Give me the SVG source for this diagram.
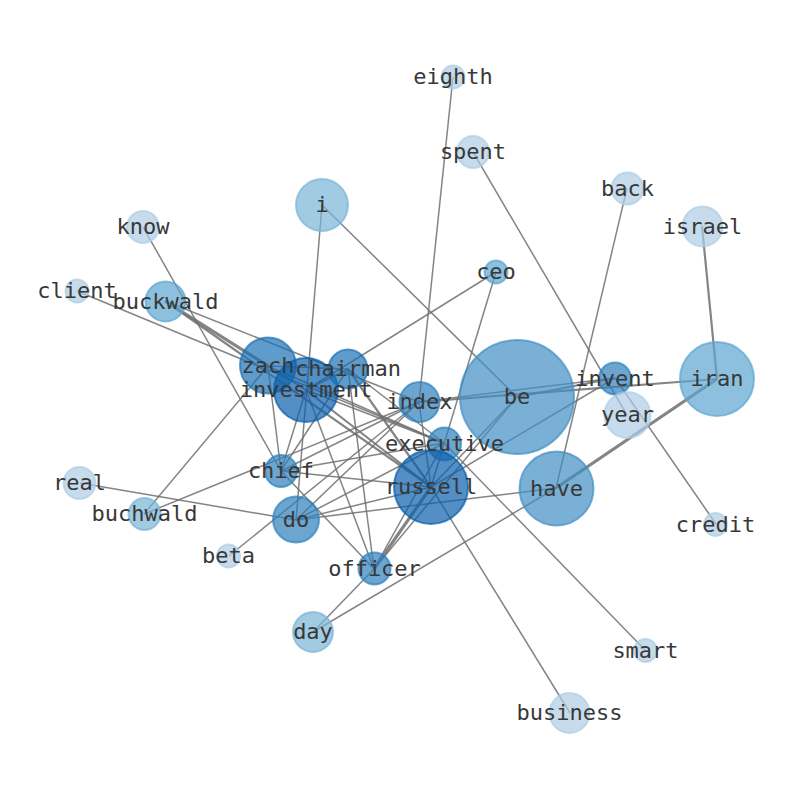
<svg xmlns="http://www.w3.org/2000/svg" width="794" height="790" viewBox="0 0 794 790">
<style>
.e{stroke:#6e6e6e;stroke-width:1.5;stroke-opacity:0.85;fill:none}
.w2{stroke-width:2.2}
.w3{stroke-width:3.2}
circle{stroke-width:2;fill-opacity:0.7;stroke-opacity:0.7}
.L1{fill:#aecde4;stroke:#aecde4}
.L2{fill:#78b5d7;stroke:#78b5d7}
.L3{fill:#5ba5d0;stroke:#5ba5d0}
.L4{fill:#418ec3;stroke:#418ec3}
.L5{fill:#2d80bc;stroke:#2d80bc}
.L6{fill:#1b70b5;stroke:#1b70b5}
.L7{fill:#0a5eab;stroke:#0a5eab}
text{font-family:"DejaVu Sans Mono","Liberation Mono",monospace;font-size:22px;fill:#383838;text-anchor:middle}
</style>
<rect width="794" height="790" fill="#ffffff"/>
<g id="edges">
<line class="e" x1="453" y1="77" x2="419" y2="402"/>
<line class="e" x1="473" y1="152" x2="627" y2="415"/>
<line class="e" x1="627" y1="188" x2="556" y2="488"/>
<line class="e w2" x1="702" y1="226" x2="717" y2="379"/>
<line class="e w3" x1="717" y1="379" x2="556" y2="488"/>
<line class="e w2" x1="717" y1="379" x2="419" y2="402"/>
<line class="e" x1="615" y1="378" x2="419" y2="402"/>
<line class="e w2" x1="615" y1="378" x2="517" y2="397"/>
<line class="e" x1="615" y1="378" x2="431" y2="487"/>
<line class="e" x1="615" y1="378" x2="716" y2="524"/>
<line class="e" x1="322" y1="205" x2="517" y2="397"/>
<line class="e" x1="322" y1="205" x2="296" y2="520"/>
<line class="e" x1="496" y1="272" x2="306" y2="390"/>
<line class="e" x1="496" y1="272" x2="431" y2="487"/>
<line class="e" x1="143" y1="227" x2="281" y2="471"/>
<line class="e" x1="77" y1="291" x2="444" y2="443"/>
<line class="e w3" x1="165" y1="301" x2="268" y2="366"/>
<line class="e w2" x1="165" y1="301" x2="431" y2="487"/>
<line class="e" x1="165" y1="301" x2="419" y2="402"/>
<line class="e" x1="144" y1="514" x2="268" y2="366"/>
<line class="e" x1="144" y1="514" x2="419" y2="402"/>
<line class="e" x1="80" y1="483" x2="296" y2="520"/>
<line class="e" x1="229" y1="556" x2="419" y2="402"/>
<line class="e" x1="296" y1="520" x2="556" y2="488"/>
<line class="e" x1="313" y1="632" x2="374" y2="569"/>
<line class="e" x1="313" y1="632" x2="556" y2="488"/>
<line class="e" x1="570" y1="713" x2="431" y2="487"/>
<line class="e" x1="646" y1="651" x2="444" y2="443"/>
<line class="e" x1="268" y1="366" x2="306" y2="390"/>
<line class="e" x1="268" y1="366" x2="348" y2="369"/>
<line class="e" x1="268" y1="366" x2="444" y2="443"/>
<line class="e" x1="268" y1="366" x2="281" y2="471"/>
<line class="e" x1="306" y1="390" x2="348" y2="369"/>
<line class="e w2" x1="306" y1="390" x2="431" y2="487"/>
<line class="e" x1="306" y1="390" x2="281" y2="471"/>
<line class="e" x1="306" y1="390" x2="374" y2="569"/>
<line class="e" x1="306" y1="390" x2="444" y2="443"/>
<line class="e w2" x1="348" y1="369" x2="431" y2="487"/>
<line class="e" x1="348" y1="369" x2="444" y2="443"/>
<line class="e" x1="348" y1="369" x2="374" y2="569"/>
<line class="e" x1="348" y1="369" x2="281" y2="471"/>
<line class="e" x1="281" y1="471" x2="419" y2="402"/>
<line class="e" x1="281" y1="471" x2="444" y2="443"/>
<line class="e" x1="281" y1="471" x2="431" y2="487"/>
<line class="e" x1="281" y1="471" x2="374" y2="569"/>
<line class="e" x1="296" y1="520" x2="431" y2="487"/>
<line class="e" x1="296" y1="520" x2="444" y2="443"/>
<line class="e" x1="296" y1="520" x2="419" y2="402"/>
<line class="e w3" x1="374" y1="569" x2="431" y2="487"/>
<line class="e" x1="374" y1="569" x2="517" y2="397"/>
<line class="e" x1="374" y1="569" x2="444" y2="443"/>
<line class="e" x1="517" y1="397" x2="431" y2="487"/>
<line class="e" x1="419" y1="402" x2="431" y2="487"/>
</g>
<g id="nodes">
<g id="node-eighth"><circle class="L1" cx="453" cy="77" r="11.5"/></g>
<g id="node-spent"><circle class="L1" cx="473" cy="152" r="16"/></g>
<g id="node-back"><circle class="L1" cx="627.5" cy="188.5" r="16"/></g>
<g id="node-israel"><circle class="L1" cx="702.5" cy="226.5" r="20"/></g>
<g id="node-ceo"><circle class="L3" cx="496" cy="272" r="11.5"/></g>
<g id="node-i"><circle class="L2" cx="322" cy="205" r="26"/></g>
<g id="node-know"><circle class="L1" cx="143" cy="227" r="16"/></g>
<g id="node-client"><circle class="L1" cx="77" cy="291" r="11.5"/></g>
<g id="node-buckwald"><circle class="L3" cx="165.5" cy="301.5" r="20"/></g>
<g id="node-zach"><circle class="L6" cx="268" cy="365.5" r="28"/></g>
<g id="node-investment"><circle class="L7" cx="306" cy="390" r="32"/></g>
<g id="node-chairman"><circle class="L6" cx="348" cy="369" r="19.5"/></g>
<g id="node-index"><circle class="L5" cx="419.5" cy="402" r="20"/></g>
<g id="node-be"><circle class="L4" cx="517" cy="397" r="57"/></g>
<g id="node-invent"><circle class="L5" cx="615" cy="378.5" r="16"/></g>
<g id="node-iran"><circle class="L3" cx="717" cy="379" r="37"/></g>
<g id="node-year"><circle class="L1" cx="627.5" cy="415" r="23"/></g>
<g id="node-executive"><circle class="L5" cx="444.5" cy="444" r="16.5"/></g>
<g id="node-chief"><circle class="L5" cx="281" cy="471" r="16"/></g>
<g id="node-russell"><circle class="L7" cx="431" cy="487" r="37"/></g>
<g id="node-have"><circle class="L4" cx="556.5" cy="488.5" r="37"/></g>
<g id="node-real"><circle class="L1" cx="79.5" cy="483" r="16"/></g>
<g id="node-buchwald"><circle class="L2" cx="144.5" cy="514" r="16"/></g>
<g id="node-do"><circle class="L5" cx="296" cy="519.5" r="23"/></g>
<g id="node-credit"><circle class="L1" cx="715.5" cy="524.5" r="11.5"/></g>
<g id="node-beta"><circle class="L1" cx="228.5" cy="556" r="11.5"/></g>
<g id="node-officer"><circle class="L5" cx="374.5" cy="568.5" r="16"/></g>
<g id="node-day"><circle class="L2" cx="313" cy="632" r="20"/></g>
<g id="node-smart"><circle class="L1" cx="645.5" cy="650.5" r="11.5"/></g>
<g id="node-business"><circle class="L1" cx="569.5" cy="713" r="20"/></g>
</g>
<g id="labels">
<text x="453" y="84">eighth</text>
<text x="473" y="159">spent</text>
<text x="627.5" y="195.5">back</text>
<text x="702.5" y="233.5">israel</text>
<text x="496" y="279">ceo</text>
<text x="322" y="212">i</text>
<text x="143" y="234">know</text>
<text x="77" y="298">client</text>
<text x="165.5" y="308.5">buckwald</text>
<text x="268" y="372.5">zach</text>
<text x="306" y="397">investment</text>
<text x="348" y="376">chairman</text>
<text x="419.5" y="409">index</text>
<text x="517" y="404">be</text>
<text x="615" y="385.5">invent</text>
<text x="717" y="386">iran</text>
<text x="627.5" y="422">year</text>
<text x="444.5" y="451">executive</text>
<text x="281" y="478">chief</text>
<text x="431" y="494">russell</text>
<text x="556.5" y="495.5">have</text>
<text x="79.5" y="490">real</text>
<text x="144.5" y="521">buchwald</text>
<text x="296" y="526.5">do</text>
<text x="715.5" y="531.5">credit</text>
<text x="228.5" y="563">beta</text>
<text x="374.5" y="575.5">officer</text>
<text x="313" y="639">day</text>
<text x="645.5" y="657.5">smart</text>
<text x="569.5" y="720">business</text>
</g>
</svg>
